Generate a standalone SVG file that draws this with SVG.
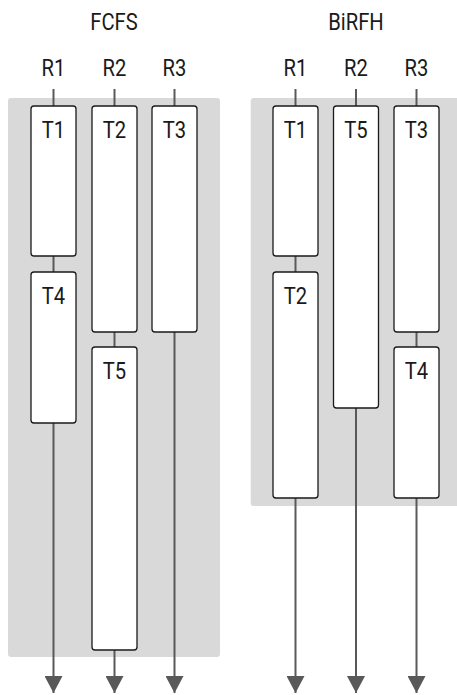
<svg xmlns="http://www.w3.org/2000/svg" width="457" height="695" viewBox="0 0 457 695">
<style>
text{font-family:Roboto,"Liberation Sans",sans-serif;font-size:23.5px;fill:#1a1a1a;text-anchor:middle}
.panel{fill:#d9d9d9}
.task{fill:#fff;stroke:#1a1a1a;stroke-width:1.3}
.conn{stroke:#595959;stroke-width:2;fill:none}
.ah{fill:#595959}
</style>
<defs>
<marker id="arr" viewBox="0 0 17 18" refX="17" refY="9" markerWidth="17" markerHeight="18" markerUnits="userSpaceOnUse" orient="auto">
<path d="M0,0 L17,9 L0,18 Z" class="ah"/>
</marker>
</defs>
<g id="fcfs">
<rect class="panel" x="8" y="98" width="212" height="559" rx="3"/>
<text transform="translate(114,30) scale(0.86,1)">FCFS</text>
<text transform="translate(53.5,76) scale(0.86,1)">R1</text>
<text transform="translate(114.5,76) scale(0.86,1)">R2</text>
<text transform="translate(174.5,76) scale(0.86,1)">R3</text>
</g>
<g id="birfh">
<rect class="panel" x="250.7" y="98" width="212" height="408" rx="3"/>
<text transform="translate(356,30) scale(0.86,1)">BiRFH</text>
<text transform="translate(295.5,76) scale(0.86,1)">R1</text>
<text transform="translate(356,76) scale(0.86,1)">R2</text>
<text transform="translate(416.5,76) scale(0.86,1)">R3</text>
</g>
<g id="connectors">
<line class="conn" x1="53.5" y1="89" x2="53.5" y2="106"/>
<line class="conn" x1="53.5" y1="256" x2="53.5" y2="272"/>
<line class="conn" x1="53.5" y1="423" x2="53.5" y2="693" marker-end="url(#arr)"/>
<line class="conn" x1="114.5" y1="89" x2="114.5" y2="106"/>
<line class="conn" x1="114.5" y1="332" x2="114.5" y2="347"/>
<line class="conn" x1="114.5" y1="650" x2="114.5" y2="693" marker-end="url(#arr)"/>
<line class="conn" x1="174.5" y1="89" x2="174.5" y2="106"/>
<line class="conn" x1="174.5" y1="332" x2="174.5" y2="693" marker-end="url(#arr)"/>
<line class="conn" x1="295.5" y1="89" x2="295.5" y2="106"/>
<line class="conn" x1="295.5" y1="256" x2="295.5" y2="272"/>
<line class="conn" x1="295.5" y1="498" x2="295.5" y2="693" marker-end="url(#arr)"/>
<line class="conn" x1="356" y1="89" x2="356" y2="106"/>
<line class="conn" x1="356" y1="408" x2="356" y2="693" marker-end="url(#arr)"/>
<line class="conn" x1="416.5" y1="89" x2="416.5" y2="106"/>
<line class="conn" x1="416.5" y1="332" x2="416.5" y2="347"/>
<line class="conn" x1="416.5" y1="498" x2="416.5" y2="693" marker-end="url(#arr)"/>
</g>
<g id="fcfs-T1"><rect class="task" x="31" y="106" width="45" height="150" rx="3"/><text transform="translate(53.5,137.5) scale(0.86,1)">T1</text></g>
<g id="fcfs-T4"><rect class="task" x="31" y="272" width="45" height="151" rx="3"/><text transform="translate(53.5,303.5) scale(0.86,1)">T4</text></g>
<g id="fcfs-T2"><rect class="task" x="92" y="106" width="45" height="226" rx="3"/><text transform="translate(114.5,137.5) scale(0.86,1)">T2</text></g>
<g id="fcfs-T5"><rect class="task" x="92" y="347" width="45" height="303" rx="3"/><text transform="translate(114.5,378.5) scale(0.86,1)">T5</text></g>
<g id="fcfs-T3"><rect class="task" x="152" y="106" width="45" height="226" rx="3"/><text transform="translate(174.5,137.5) scale(0.86,1)">T3</text></g>
<g id="birfh-T1"><rect class="task" x="273" y="106" width="45" height="150" rx="3"/><text transform="translate(295.5,137.5) scale(0.86,1)">T1</text></g>
<g id="birfh-T2"><rect class="task" x="273" y="272" width="45" height="226" rx="3"/><text transform="translate(295.5,303.5) scale(0.86,1)">T2</text></g>
<g id="birfh-T5"><rect class="task" x="333.5" y="106" width="45" height="302" rx="3"/><text transform="translate(356,137.5) scale(0.86,1)">T5</text></g>
<g id="birfh-T3"><rect class="task" x="394" y="106" width="45" height="226" rx="3"/><text transform="translate(416.5,137.5) scale(0.86,1)">T3</text></g>
<g id="birfh-T4"><rect class="task" x="394" y="347" width="45" height="151" rx="3"/><text transform="translate(416.5,378.5) scale(0.86,1)">T4</text></g>
</svg>
